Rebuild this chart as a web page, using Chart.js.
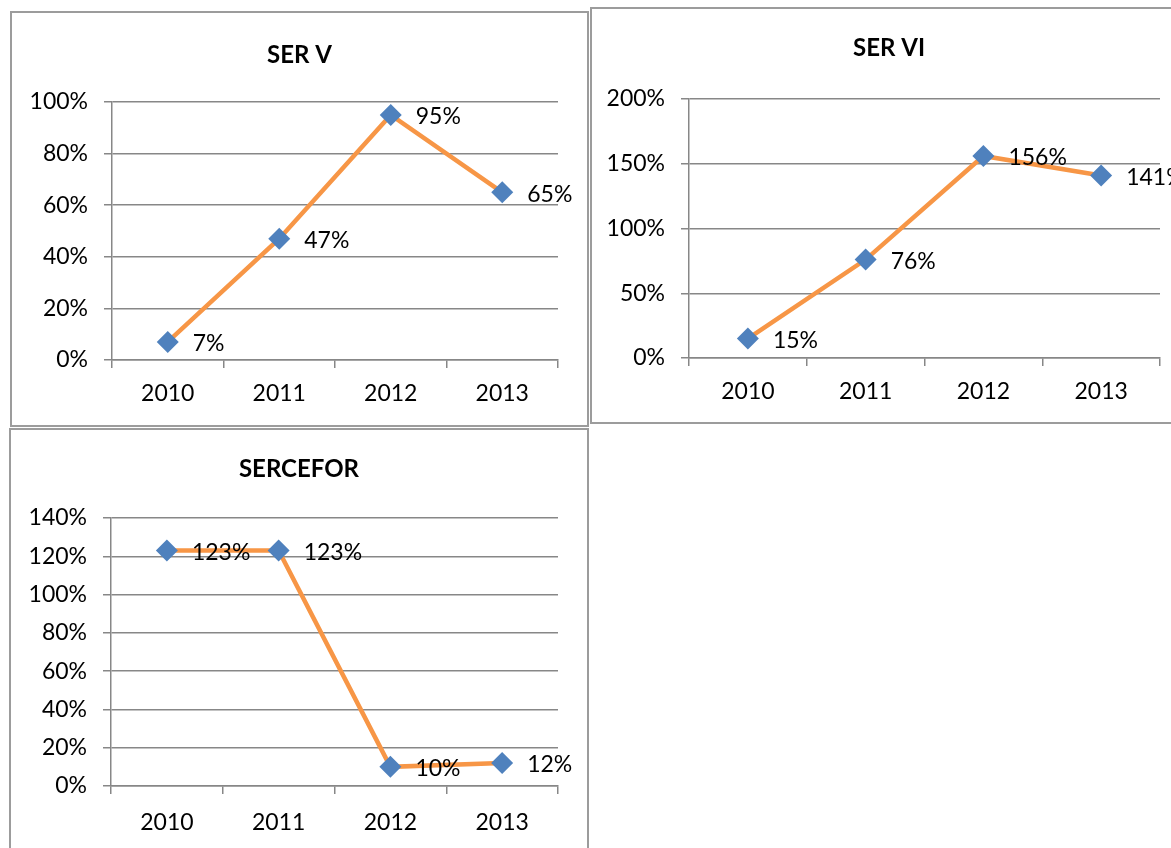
<!DOCTYPE html>
<html>
<head>
<meta charset="utf-8">
<script src="https://cdn.jsdelivr.net/npm/chart.js@4"></script>
<style>
  html, body { margin: 0; padding: 0; background: #fff; overflow: hidden; width: 1171px; height: 848px; }
  .panel { position: absolute; border: 2px solid #9c9c9c; box-sizing: border-box; background: #fff; }
  canvas { position: absolute; }
</style>
</head>
<body>
<div class="panel" style="left:10px; top:11px; width:579px; height:416px;"></div>
<div class="panel" style="left:590px; top:7px; width:620px; height:417px;"></div>
<div class="panel" style="left:9px; top:428px; width:580px; height:440px;"></div>
<canvas id="c1" width="575" height="412" style="left:12px; top:13px;"></canvas>
<canvas id="c2" width="579" height="413" style="left:592px; top:9px;"></canvas>
<canvas id="c3" width="575" height="418" style="left:11px; top:430px;"></canvas>
<script>
// ---- data ----
const years = ['2010', '2011', '2012', '2013'];
const serV = [7, 47, 95, 65];
const serVI = [15, 76, 156, 141];
const sercefor = [123, 123, 10, 12];
const titles = ['SER V', 'SER VI', 'SERCEFOR'];
const yMax = [100, 200, 140];
const yStep = [20, 50, 20];

const FONT = 'Lato, "Open Sans", sans-serif';
const GRID = '#878787';

const valueLabels = {
  id: 'valueLabels',
  afterDatasetsDraw(chart) {
    const ctx = chart.ctx;
    ctx.save();
    ctx.font = '23px ' + FONT;
    ctx.fillStyle = '#000';
    ctx.textAlign = 'left';
    ctx.textBaseline = 'middle';
    const meta = chart.getDatasetMeta(0);
    const data = chart.data.datasets[0].data;
    meta.data.forEach((pt, i) => {
      ctx.fillText(data[i] + '%', pt.x + 25, pt.y + 2);
    });
    ctx.restore();
  }
};

const panelTitle = {
  id: 'panelTitle',
  afterDraw(chart, args, opts) {
    const ctx = chart.ctx;
    ctx.save();
    ctx.font = 'bold 24px ' + FONT;
    ctx.fillStyle = '#000';
    ctx.textAlign = 'center';
    ctx.textBaseline = 'middle';
    ctx.fillText(opts.text, opts.x, opts.y);
    ctx.restore();
  }
};

function makeChart(id, title, values, max, step, o) {
  new Chart(document.getElementById(id), {
    type: 'line',
    data: {
      labels: years,
      datasets: [{
        data: values,
        borderColor: '#F79646',
        borderWidth: 4.5,
        tension: 0,
        pointStyle: 'rectRot',
        pointRadius: 11,
        pointBackgroundColor: '#4F81BD',
        pointBorderColor: '#4F81BD',
        pointBorderWidth: 0,
        clip: false
      }]
    },
    options: {
      responsive: false,
      animation: false,
      events: [],
      layout: { padding: { left: 0, right: o.pr, top: o.top, bottom: 0 } },
      plugins: {
        legend: { display: false },
        tooltip: { enabled: false },
        title: { display: false },
        panelTitle: { text: title, x: o.tx, y: o.ty }
      },
      scales: {
        x: {
          offset: true,
          grid: { offset: true, drawOnChartArea: false, drawTicks: true, tickLength: 8, color: GRID, lineWidth: 1.5 },
          border: { color: GRID, width: 1.5 },
          ticks: { color: '#000', font: { family: FONT, size: 23 }, padding: o.xp, maxRotation: 0 },
          afterFit: s => { s.height = o.xh; }
        },
        y: {
          min: 0,
          max: max,
          grid: { color: GRID, lineWidth: 1.5, tickLength: 8 },
          border: { color: GRID, width: 1.5 },
          ticks: { stepSize: step, color: '#000', font: { family: FONT, size: 23 }, padding: 16,
                   callback: v => v + '%' },
          afterFit: s => { s.width = o.yw; }
        }
      }
    },
    plugins: [valueLabels, panelTitle]
  });
}

makeChart('c1', titles[0], serV, yMax[0], yStep[0], { pr: 29, yw: 100, top: 89, xh: 65, xp: 12, tx: 287.5, ty: 42 });
makeChart('c2', titles[1], serVI, yMax[1], yStep[1], { pr: 11, yw: 97, top: 90, xh: 64, xp: 12, tx: 297, ty: 39 });
makeChart('c3', titles[2], sercefor, yMax[2], yStep[2], { pr: 28, yw: 100, top: 88, xh: 62, xp: 15, tx: 288, ty: 39 });
</script>
</body>
</html>
